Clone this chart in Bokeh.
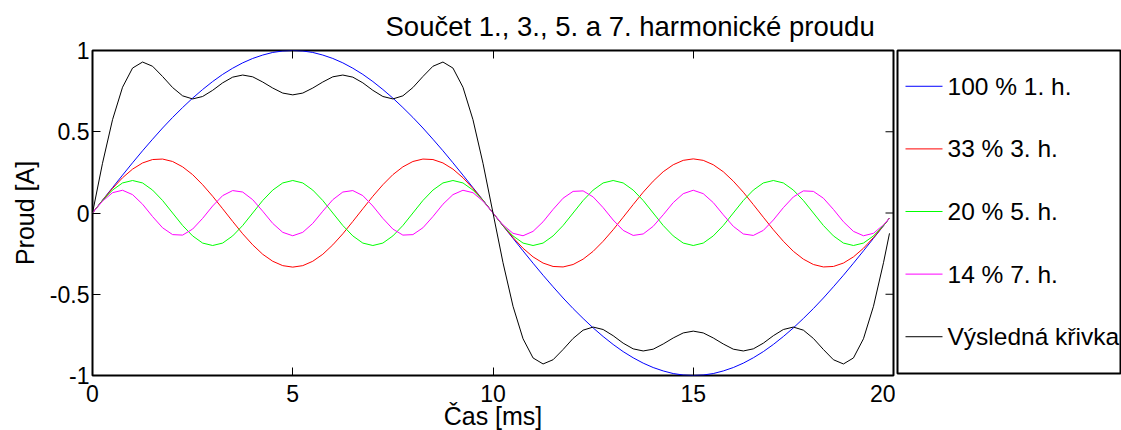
import math
from bokeh.plotting import figure
from bokeh.layouts import row
from bokeh.models import (Range1d, FixedTicker, LinearAxis, NumeralTickFormatter,
                          CustomJSTickFormatter, Title)
from bokeh.core.properties import value
from bokeh.embed import file_html
from bokeh.resources import INLINE

# ---------------- data ----------------
t_ms = [0.0, 0.25, 0.5, 0.75, 1.0, 1.25, 1.5, 1.75, 2.0, 2.25, 2.5, 2.75, 3.0, 3.25, 3.5, 3.75,
        4.0, 4.25, 4.5, 4.75, 5.0, 5.25, 5.5, 5.75, 6.0, 6.25, 6.5, 6.75, 7.0, 7.25, 7.5, 7.75,
        8.0, 8.25, 8.5, 8.75, 9.0, 9.25, 9.5, 9.75, 10.0, 10.25, 10.5, 10.75, 11.0, 11.25, 11.5,
        11.75, 12.0, 12.25, 12.5, 12.75, 13.0, 13.25, 13.5, 13.75, 14.0, 14.25, 14.5, 14.75, 15.0,
        15.25, 15.5, 15.75, 16.0, 16.25, 16.5, 16.75, 17.0, 17.25, 17.5, 17.75, 18.0, 18.25, 18.5,
        18.75, 19.0, 19.25, 19.5, 19.75, 19.9]

h1 = [0.000, 0.079, 0.156, 0.233, 0.309, 0.383, 0.454, 0.523, 0.588, 0.649, 0.707, 0.760, 0.809,
      0.853, 0.891, 0.924, 0.951, 0.972, 0.988, 0.997, 1.000,
      0.997, 0.988, 0.972, 0.951, 0.924, 0.891, 0.853, 0.809, 0.760, 0.707, 0.649, 0.588, 0.523,
      0.454, 0.383, 0.309, 0.233, 0.156, 0.079,
      0.000,
      -0.079, -0.156, -0.233, -0.309, -0.383, -0.454, -0.523, -0.588, -0.649, -0.707, -0.760,
      -0.809, -0.853, -0.891, -0.924, -0.951, -0.972, -0.988, -0.997, -1.000,
      -0.997, -0.988, -0.972, -0.951, -0.924, -0.891, -0.853, -0.809, -0.760, -0.707, -0.649,
      -0.588, -0.523, -0.454, -0.383, -0.309, -0.233, -0.156, -0.079,
      -0.031]

h3 = [0.000, 0.078, 0.151, 0.217, 0.270, 0.308, 0.329, 0.332, 0.317, 0.284, 0.236, 0.174, 0.103,
      0.026, -0.052, -0.128, -0.196, -0.254, -0.297, -0.324, -0.333,
      -0.324, -0.297, -0.254, -0.196, -0.128, -0.052, 0.026, 0.103, 0.174, 0.236, 0.284, 0.317,
      0.332, 0.329, 0.308, 0.270, 0.217, 0.151, 0.078,
      0.000,
      -0.078, -0.151, -0.217, -0.270, -0.308, -0.329, -0.332, -0.317, -0.284, -0.236, -0.174,
      -0.103, -0.026, 0.052, 0.128, 0.196, 0.254, 0.297, 0.324, 0.333,
      0.324, 0.297, 0.254, 0.196, 0.128, 0.052, -0.026, -0.103, -0.174, -0.236, -0.284, -0.317,
      -0.332, -0.329, -0.308, -0.270, -0.217, -0.151, -0.078,
      -0.031]

h5 = [0.000, 0.077, 0.141, 0.185, 0.200, 0.185, 0.141, 0.077, 0.000, -0.077, -0.141, -0.185,
      -0.200, -0.185, -0.141, -0.077, 0.000, 0.077, 0.141, 0.185, 0.200,
      0.185, 0.141, 0.077, 0.000, -0.077, -0.141, -0.185, -0.200, -0.185, -0.141, -0.077, 0.000,
      0.077, 0.141, 0.185, 0.200, 0.185, 0.141, 0.077,
      0.000,
      -0.077, -0.141, -0.185, -0.200, -0.185, -0.141, -0.077, 0.000, 0.077, 0.141, 0.185, 0.200,
      0.185, 0.141, 0.077, 0.000, -0.077, -0.141, -0.185, -0.200,
      -0.185, -0.141, -0.077, 0.000, 0.077, 0.141, 0.185, 0.200, 0.185, 0.141, 0.077, 0.000,
      -0.077, -0.141, -0.185, -0.200, -0.185, -0.141, -0.077,
      -0.031]

h7 = [0.000, 0.073, 0.125, 0.140, 0.113, 0.054, -0.022, -0.091, -0.133, -0.136, -0.099, -0.033,
      0.043, 0.107, 0.138, 0.129, 0.082, 0.011, -0.064, -0.119, -0.140,
      -0.119, -0.064, 0.011, 0.082, 0.129, 0.138, 0.107, 0.043, -0.033, -0.099, -0.136, -0.133,
      -0.091, -0.022, 0.054, 0.113, 0.140, 0.125, 0.073,
      0.000,
      -0.073, -0.125, -0.140, -0.113, -0.054, 0.022, 0.091, 0.133, 0.136, 0.099, 0.033, -0.043,
      -0.107, -0.138, -0.129, -0.082, -0.011, 0.064, 0.119, 0.140,
      0.119, 0.064, -0.011, -0.082, -0.129, -0.138, -0.107, -0.043, 0.033, 0.099, 0.136, 0.133,
      0.091, 0.022, -0.054, -0.113, -0.140, -0.125, -0.073,
      -0.031]

result = [0.000, 0.306, 0.574, 0.774, 0.892, 0.929, 0.903, 0.840, 0.772, 0.721, 0.702, 0.717,
          0.755, 0.801, 0.836, 0.849, 0.838, 0.806, 0.769, 0.738, 0.727,
          0.738, 0.769, 0.806, 0.838, 0.849, 0.836, 0.801, 0.755, 0.717, 0.702, 0.721, 0.772,
          0.840, 0.903, 0.929, 0.892, 0.774, 0.574, 0.306,
          0.000,
          -0.306, -0.574, -0.774, -0.892, -0.929, -0.903, -0.840, -0.772, -0.721, -0.702, -0.717,
          -0.755, -0.801, -0.836, -0.849, -0.838, -0.806, -0.769, -0.738, -0.727,
          -0.738, -0.769, -0.806, -0.838, -0.849, -0.836, -0.801, -0.755, -0.717, -0.702, -0.721,
          -0.772, -0.840, -0.903, -0.929, -0.892, -0.774, -0.574, -0.306,
          -0.125]

series_labels = ["100 % 1. h.", "33 % 3. h.", "20 % 5. h.", "14 % 7. h.", "Výsledná křivka"]
series_colors = ["#0000ff", "#ff0000", "#00ff00", "#ff00ff", "#000000"]
x_ticks = [0, 5, 10, 15, 20]
y_ticks = [-1, -0.5, 0, 0.5, 1]
title_text = "Součet 1., 3., 5. a 7. harmonické proudu"
x_label = "Čas [ms]"
y_label = "Proud [A]"

FONT = "Liberation Sans"
series = [h1, h3, h5, h7, result]

# ---------------- main plot ----------------
p = figure(frame_width=801, frame_height=325, output_backend="svg", toolbar_location=None,
           x_range=Range1d(x_ticks[0], x_ticks[-1]), y_range=Range1d(y_ticks[0], y_ticks[-1]),
           min_border_left=92, min_border_right=2, min_border_top=49, min_border_bottom=56)
p.background_fill_color = "white"
p.border_fill_color = "white"
p.outline_line_color = "black"
p.outline_line_width = 2
p.xgrid.grid_line_color = None
p.ygrid.grid_line_color = None

# extra top axis for MATLAB-style box ticks (no labels)
blank = CustomJSTickFormatter(code="return ''")
p.add_layout(LinearAxis(formatter=blank), "above")

for ax in p.xaxis:
    ax.ticker = FixedTicker(ticks=x_ticks)
for ax in p.yaxis:
    ax.ticker = FixedTicker(ticks=y_ticks)

for ax in p.axis:
    ax.axis_line_color = None
    ax.major_tick_in = 8
    ax.major_tick_out = 0
    ax.minor_tick_in = 0
    ax.minor_tick_out = 0
    ax.major_tick_line_color = "black"
    ax.major_tick_line_width = 1
    ax.major_label_text_font = FONT
    ax.major_label_text_font_size = "23px"
    ax.major_label_text_color = "black"
    ax.axis_label_text_font = FONT
    ax.axis_label_text_font_size = "25px"
    ax.axis_label_text_font_style = "normal"
    ax.axis_label_text_color = "black"

top_ax = p.above[0]
top_ax.major_label_standoff = 0
top_ax.axis_label_standoff = 0
top_ax.major_label_text_font_size = "0px"

bottom_ax = p.below[0]
left_ax = p.left[0]
left_ax.formatter = NumeralTickFormatter(format="0.[0]")
bottom_ax.axis_label = x_label
bottom_ax.major_label_standoff = 9
bottom_ax.axis_label_standoff = -3
left_ax.axis_label = y_label
left_ax.major_label_standoff = 3
left_ax.axis_label_standoff = 8

p.add_layout(Title(text=title_text, align="left", offset=293, text_font=FONT,
                   text_font_size="27.5px", text_font_style="normal", text_color="black",
                   standoff=17), "above")

for ys, col in zip(series, series_colors):
    p.line(t_ms, ys, line_color=col, line_width=1)

# inward ticks on the right edge of the box, at the y tick values
p.ray(x=[x_ticks[-1]] * len(y_ticks), y=y_ticks, length=8, length_units="screen",
      angle=math.pi, line_color="black", line_width=1)

# ---------------- legend box (outside the axes, as in MATLAB) ----------------
LEG_W, LEG_H = 224, 325
q = figure(width=226, height=430, output_backend="svg", toolbar_location=None,
           x_range=Range1d(0, LEG_W), y_range=Range1d(0, LEG_H),
           x_axis_location=None, y_axis_location=None,
           min_border_left=2, min_border_right=0, min_border_top=49, min_border_bottom=56)
q.outline_line_color = "black"
q.outline_line_width = 2
q.background_fill_color = "white"
q.border_fill_color = "white"
q.xgrid.grid_line_color = None
q.ygrid.grid_line_color = None

pad_x, sw_len, gap, first_off, pitch = 8, 37, 5, 36, 63
n = len(series_labels)
item_y = [LEG_H - (first_off + pitch * i) for i in range(n)]
q.segment(x0=[pad_x] * n, y0=item_y, x1=[pad_x + sw_len] * n, y1=item_y,
          line_color=series_colors, line_width=1)
q.text(x=[pad_x + sw_len + gap] * n, y=item_y, text=series_labels,
       text_font=value(FONT), text_font_size="24.5px", text_color="black",
       text_baseline="middle", text_align="left")

layout = row(p, q, spacing=0)
open("out.html", "w").write(file_html(layout, INLINE))
